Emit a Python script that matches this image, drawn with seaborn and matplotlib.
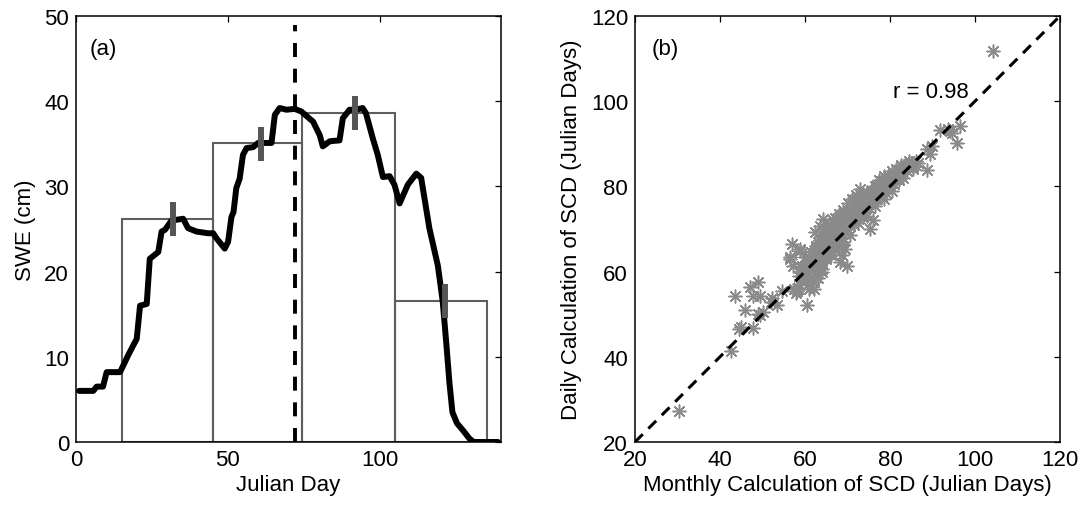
import matplotlib
matplotlib.use("Agg")
import matplotlib.pyplot as plt
import seaborn as sns
import numpy as np
import pandas as pd

# ---------------- data ----------------
# Panel (a): SWE time series (Julian day, cm)
swe_day = [1, 5.7, 6.8, 8.9, 10.1, 14.5, 15.6, 17.2, 18.8, 20.0, 21.1, 23.3, 24.3, 27.1,
           28.2, 29.3, 31.5, 35.3, 36.9, 39.7, 43.5, 45.2, 46.3, 49.0, 50.1, 51.2, 51.9,
           52.8, 53.9, 55.0, 56.2, 58.3, 60.0, 64.4, 65.5, 67.1, 69.3, 72.0, 74.2, 78.1,
           80.3, 81.3, 83.6, 86.8, 87.9, 90.1, 92.3, 94.4, 95.5, 97.8, 99.4, 101.1, 103.3,
           104.9, 106.6, 109.3, 112.1, 113.7, 116.4, 119.2, 120.8, 122.0, 123.0, 124.0,
           125.5, 127.4, 129.6, 131.0, 139.0]
swe_cm = [6.0, 6.0, 6.5, 6.5, 8.2, 8.2, 9.0, 10.2, 11.3, 12.1, 16.0, 16.2, 21.5, 22.3,
          24.7, 24.9, 26.0, 26.2, 25.1, 24.7, 24.5, 24.5, 23.9, 22.7, 23.5, 26.4, 27.0,
          29.8, 30.9, 33.7, 34.5, 34.6, 35.1, 35.1, 38.4, 39.2, 39.0, 39.1, 38.8, 37.6,
          36.0, 34.7, 35.3, 35.4, 38.0, 39.0, 39.0, 39.2, 38.6, 35.6, 33.7, 31.1, 31.2,
          30.2, 28.0, 30.2, 31.5, 31.0, 25.1, 20.7, 16.5, 11.5, 7.0, 3.5,
          2.2, 1.4, 0.4, 0.0, 0.0]

# monthly boxes: left edges, widths, mean SWE
month_left = [15, 45, 74.5, 105]
month_width = [30, 29.5, 30.5, 30.3]
month_swe = [26.2, 35.1, 38.6, 16.5]

# error bars
err_day = [32, 61, 92, 121.6]
err_swe = [26.2, 35.0, 38.6, 16.5]
err_half = [2.0, 2.0, 2.0, 2.0]

scd_day = 72.0

# Panel (b): monthly vs daily SCD (Julian days)
monthly_scd = [30.4, 42.6, 44.5, 45.0, 47.7, 43.5, 45.9, 47.1, 48.9, 47.7, 49.4, 49.0, 49.4,
               50.2, 52.1, 52.3, 53.5, 54.7, 56.9, 58.8, 56.5, 57.1, 58.4, 57.8, 60.4, 62.0,
               58.8, 63.9, 68.2, 69.8, 68.6, 69.4, 64.3, 62.4, 63.5, 58.8, 56.5, 71.8, 74.5,
               78.0, 75.3, 73.7, 76.1, 88.6, 85.5, 84.3, 88.6, 89.8, 89.4, 91.8, 94.1, 94.6,
               93.6, 96.5, 95.7, 104.3,
               57.5, 58.0, 58.5, 59.0, 59.5, 60.0, 60.0, 61.0, 61.5, 62.0, 62.5, 63.0, 63.5,
               63.0, 64.0, 64.0, 64.5, 65.0, 65.0, 65.5, 66.0, 66.0, 66.5, 67.0, 67.0, 67.5,
               68.0, 68.0, 68.5, 69.0, 69.0, 69.5, 70.0, 70.0, 70.5, 71.0, 71.0, 71.5, 72.0,
               72.0, 72.5, 73.0, 73.0, 73.5, 74.0, 74.0, 74.5, 75.0, 75.0, 75.5, 76.0, 76.0,
               76.5, 77.0, 77.0, 77.5, 78.0, 78.0, 78.5, 79.0, 79.0, 79.5, 80.0, 80.0, 80.5,
               81.0, 81.0, 81.5, 82.0, 82.0, 82.5, 83.0, 83.0, 83.5, 84.0, 84.5, 85.0, 85.5,
               86.0, 86.5, 60.5, 61.0, 62.0, 62.5, 63.0, 64.0, 65.0, 65.5, 66.0, 66.5, 67.0,
               68.0, 69.0, 70.0, 71.0, 72.0, 73.0, 67.5, 68.5, 70.5, 72.5, 74.5, 76.5, 78.5,
               80.5, 61.0, 62.0, 63.0, 64.0, 59.0, 60.0,
               62.5, 63.5, 64.5, 65.5, 66.5, 67.5, 68.5, 69.5, 70.5, 71.5, 72.5, 73.5, 74.5,
               75.5, 76.5, 77.5, 78.5, 79.5, 80.5, 81.5, 82.5, 83.5, 84.5,
               61.5, 62.5, 63.5, 64.5, 65.5, 66.5, 67.5, 68.5, 69.5, 70.5, 71.5, 72.5,
               63.0, 64.0, 65.0, 66.0, 67.0, 68.0, 69.0, 58.5, 59.5, 60.5]
daily_scd = [27.2, 41.3, 46.5, 47.0, 46.7, 54.3, 51.1, 56.5, 57.6, 54.3, 54.3, 50.0, 49.8,
             50.5, 52.8, 53.8, 52.2, 55.5, 66.5, 65.3, 63.0, 61.2, 55.9, 55.0, 52.2, 55.9,
             59.8, 59.8, 62.2, 61.4, 64.0, 65.3, 72.3, 69.2, 70.8, 64.9, 63.4, 75.9, 78.6,
             81.3, 70.0, 72.7, 72.0, 83.9, 84.5, 85.3, 88.8, 89.6, 87.6, 93.3, 93.1, 92.5,
             93.5, 94.2, 90.2, 111.7,
             56.0, 55.5, 57.0, 58.0, 59.0, 57.5, 60.0, 58.0, 60.5, 61.5, 59.5, 62.0, 63.0,
             64.5, 62.5, 65.0, 64.0, 66.0, 63.5, 67.0, 65.0, 68.0, 66.5, 69.0, 67.0, 70.0,
             68.0, 70.5, 69.0, 71.0, 68.0, 72.0, 70.0, 73.0, 71.0, 72.5, 74.0, 71.0, 73.0,
             75.0, 74.0, 76.0, 73.0, 75.5, 74.0, 77.0, 76.0, 75.0, 78.0, 77.0, 79.0, 76.5,
             78.0, 77.0, 80.0, 79.0, 78.0, 80.5, 79.5, 81.0, 78.5, 80.0, 82.0, 80.0, 81.0,
             83.0, 80.5, 82.0, 83.5, 81.5, 83.0, 84.0, 82.0, 84.5, 83.5, 85.0, 85.5, 84.0,
             86.0, 85.5, 62.0, 63.5, 64.0, 66.0, 67.0, 68.5, 69.5, 70.5, 71.0, 72.0, 72.5,
             73.5, 74.5, 76.0, 77.0, 78.0, 79.5, 66.0, 66.5, 68.5, 71.5, 73.0, 75.5, 77.0,
             79.0, 56.0, 57.5, 58.5, 60.5, 61.0, 63.5,
             65.5, 66.5, 67.5, 69.0, 70.0, 71.0, 72.0, 73.5, 74.5, 75.0, 76.0, 77.5, 78.5,
             79.0, 80.0, 81.5, 82.5, 82.5, 83.5, 84.0, 85.0, 85.0, 86.0,
             64.5, 66.0, 67.5, 68.0, 69.5, 70.5, 71.5, 72.5, 74.0, 74.5, 75.0, 76.5,
             61.0, 62.0, 63.0, 64.0, 65.0, 66.0, 67.0, 59.0, 61.0, 62.5]
one_to_one = [20, 120]
r_text = "r = 0.98"

# ---------------- style ----------------
FS = 16
sns.set_theme(style="white")
plt.rcParams['font.family'] = ['Liberation Sans', 'DejaVu Sans']
plt.rcParams.update({
    'font.size': FS,
    'axes.labelsize': FS,
    'xtick.labelsize': FS,
    'ytick.labelsize': FS,
    'axes.edgecolor': 'black',
    'axes.linewidth': 1.1,
    'xtick.direction': 'in',
    'ytick.direction': 'in',
    'xtick.color': 'black',
    'ytick.color': 'black',
    'text.color': 'black',
    'axes.labelcolor': 'black',
})

fig = plt.figure(figsize=(10.86, 5.06), dpi=100)
axa = fig.add_axes([76/1086, 63/506, 425/1086, (443-17)/506])
axb = fig.add_axes([635/1086, 63/506, 425/1086, (443-17)/506])

# ---- panel (a)
axa.bar(month_left, month_swe, width=month_width, align='edge', fill=False,
        edgecolor='#5e5e5e', linewidth=1.5, zorder=2)
sns.lineplot(x=swe_day, y=swe_cm, ax=axa, color='black', linewidth=4.3,
             estimator=None, sort=False, zorder=3)
axa.plot([scd_day, scd_day], [0, 49.0], color='black', linewidth=2.8,
         dashes=(3.6, 3.0), zorder=4)
axa.errorbar(err_day, err_swe, yerr=err_half, fmt='none', ecolor='#555555',
             elinewidth=4.3, capsize=0, zorder=5)
axa.set_xlim(0, 140)
axa.set_ylim(0, 50)
axa.set_xticks([0, 50, 100])
axa.set_yticks([0, 10, 20, 30, 40, 50])
axa.set_xlabel('Julian Day', labelpad=3)
axa.set_ylabel('SWE (cm)', labelpad=6)
axa.text(4.6, 46.2, '(a)', ha='left', va='center', fontsize=FS)

# ---- panel (b)
sns.lineplot(x=one_to_one, y=one_to_one, ax=axb, color='black', linewidth=2.2,
             estimator=None, zorder=4)
axb.lines[-1].set_dashes((3.6, 2.6))
sns.scatterplot(x=monthly_scd, y=daily_scd, ax=axb, marker=(8, 2, 0), s=85,
                color='#8a8a8a', edgecolor='#8a8a8a', linewidth=1.1, zorder=3)
axb.set_xlim(20, 120)
axb.set_ylim(20, 120)
axb.set_xticks(range(20, 121, 20))
axb.set_yticks(range(20, 121, 20))
axb.set_xlabel('Monthly Calculation of SCD (Julian Days)', labelpad=3)
axb.set_ylabel('Daily Calculation of SCD (Julian Days)', labelpad=6)
axb.text(24, 112.3, '(b)', ha='left', va='center', fontsize=FS)
axb.text(80.7, 102.3, r_text, ha='left', va='center', fontsize=FS)

for ax in (axa, axb):
    ax.tick_params(which='both', top=True, right=True, length=4, width=0.9, pad=5)
    for s in ax.spines.values():
        s.set_visible(True)
        s.set_color('black')

fig.savefig('out.png', dpi=100)
